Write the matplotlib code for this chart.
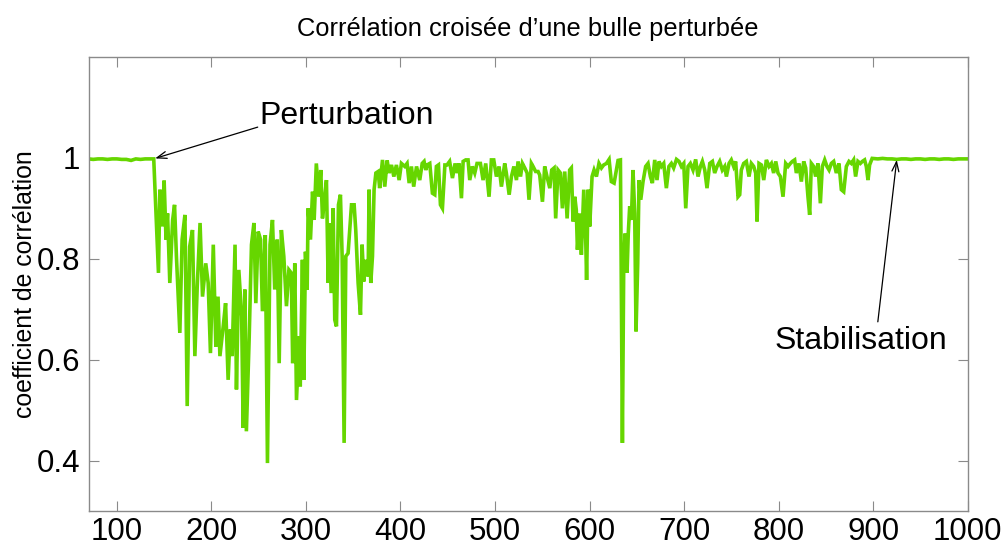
import matplotlib
matplotlib.use("Agg")
import matplotlib.pyplot as plt

# ---- data ----
frame_x = [70, 75, 80, 85, 90, 95, 100, 105, 110, 115, 120, 125, 130, 135, 139,
           144, 145.5, 148, 150, 152, 153.6, 156, 159, 161, 163, 166.6, 169, 172, 174.4,
           177, 180, 182.5, 185, 188, 190.6, 194, 196.6, 199, 202, 204.7, 207, 209,
           212.5, 215, 217.7, 220, 222, 225, 226.5, 229, 232, 233.6, 235.4, 237, 240,
           242.4, 245, 247, 249.5, 252, 254, 257, 259.3, 262, 264.6, 267, 269.6, 271.7,
           274, 276.6, 279.4, 282,
           284.5, 286, 288.2, 290, 293, 294, 296.3, 297.8, 299.5, 301.3, 302.3, 304.8,
           307, 308.7, 311, 313.6, 315.7, 317.5, 320, 321.7, 323.5, 324.5, 326.7, 328.8,
           330.5, 332.3, 334.4, 336.5, 338.3, 340.4, 342.2, 344.6, 346.4, 348.2, 351,
           352.7, 355.2, 357.7, 359.4, 361.2, 363.3, 365.8, 366.8, 368.6, 370.4, 372.1,
           374, 376.4, 378, 381, 383.4, 385.9, 388, 390.5, 393, 395.7, 398.6, 401, 404.6,
           407, 409.2, 411.6, 414, 417, 420.4, 423, 425, 426.8, 428.2, 431, 433.8, 436.3,
           438, 440.2, 442.3, 444.4, 447, 449.3, 452, 455, 457.8, 460, 462, 464.5, 466.3,
           469, 471.5, 473.3, 476, 478.6, 481, 484.6, 487.4, 490.2, 493.7, 496.2, 498.7,
           501.5, 504.3, 506.8, 510.3, 512, 515, 517.4, 520, 522.7, 524.4, 527, 529,
           531.5, 534, 536, 538.5, 540.3, 543, 545.6, 547.3, 550.2, 552.6, 555, 558, 560,
           562.5, 564.2, 566.7, 569.2, 571.3, 573.8, 576.3, 579, 580.8, 582.6, 584.4, 586,
           587.2, 589.6, 591.4, 593.9, 596, 596.9, 598.5, 600.2, 602.7, 604.8, 607.3, 610,
           612.6, 615, 617.9, 620.7, 623.1, 626, 628.4, 630.2, 632.7, 634.8, 636.2, 637.6,
           639.7, 641, 642.5, 644.3, 646, 647.8, 649.2, 651, 652.4, 654.2, 656.6, 659.4,
           661.9, 664.4, 666.5, 669, 671.4, 673.5, 676, 678.5, 681.3, 684, 686.6, 689, 692,
           694.7, 697.2, 699.7, 701.8, 704.2, 706.7, 709.5, 712.3, 714.8, 717.3, 719.4,
           721.9, 724.3, 727.2, 730, 732.4, 734.9, 737.7, 740.5, 743, 744.8, 747.6, 750,
           752.5, 754.6, 757.1, 758.9, 760.6, 763.1, 765.9, 768.7, 771.2, 773.7, 775.8,
           777.2, 779.3, 781.8, 784.3, 787.1, 789.9, 792.4, 794.8, 797, 799.4, 801.9,
           804.7, 807.5, 810, 812.5, 814.6, 817, 818.8, 821.6, 824.1, 826.6, 828.7, 831.1,
           832.9, 834.7, 837.1, 839.2, 841.7, 844.2, 846.3, 848.8, 851.2, 853.4, 855.8,
           858.3, 861.1, 863.9, 866.4, 868.9, 871.7, 874.5, 877, 879.4, 881.5, 884, 886.5,
           888.6, 891, 892.8, 894.6, 896.3, 899,
           905, 910, 915, 920, 925, 930, 935, 940, 945, 950, 955, 960, 965, 970, 975, 980,
           985, 990, 995, 1000]

correlation = [0.998, 0.997, 0.998, 0.998, 0.997, 0.998, 0.998, 0.997, 0.997, 0.995, 0.998, 0.997, 0.998, 0.998, 0.998,
               0.772, 0.937, 0.864, 0.955, 0.838, 0.89, 0.752, 0.877, 0.907, 0.805, 0.653, 0.838, 0.887, 0.508,
               0.824, 0.857, 0.607, 0.745, 0.871, 0.725, 0.791, 0.752, 0.613, 0.828, 0.626, 0.725, 0.607,
               0.666, 0.712, 0.56, 0.66, 0.607, 0.828, 0.541, 0.778, 0.686, 0.465, 0.739, 0.458, 0.646,
               0.828, 0.871, 0.712, 0.854, 0.838, 0.696, 0.847, 0.395, 0.828, 0.877, 0.739, 0.838, 0.593,
               0.857, 0.805, 0.706, 0.778,
               0.772, 0.593, 0.791, 0.52, 0.646, 0.547, 0.798, 0.56, 0.814, 0.739, 0.9, 0.838,
               0.933, 0.877, 0.989, 0.923, 0.976, 0.88, 0.923, 0.956, 0.752, 0.87, 0.732, 0.9,
               0.679, 0.666, 0.907, 0.927, 0.805, 0.435, 0.805, 0.811, 0.86, 0.907, 0.907,
               0.857, 0.752, 0.689, 0.828, 0.755, 0.798, 0.765, 0.937, 0.752, 0.805, 0.937,
               0.97, 0.973, 0.94, 0.996, 0.943, 0.995, 0.97, 0.986, 0.963, 0.986, 0.956, 0.989, 0.983,
               0.989, 0.95, 0.983, 0.943, 0.983, 0.956, 0.989, 0.993, 0.976, 0.986, 0.989, 0.93, 0.927,
               0.983, 0.986, 0.907, 0.9, 0.986, 0.986, 0.993, 0.96, 0.989, 0.97, 0.989, 0.92, 0.993,
               0.996, 0.996, 0.956, 0.983, 0.97, 0.989, 0.989, 0.956, 0.989, 0.923, 0.996, 0.996,
               0.963, 0.983, 0.943, 0.989, 0.97, 0.927, 0.963, 0.983, 0.956, 0.993, 0.963, 0.989,
               0.98, 0.97, 0.917, 0.989, 0.983, 0.973, 0.973, 0.966, 0.913, 0.983, 0.963, 0.94, 0.976,
               0.98, 0.88, 0.976, 0.97, 0.9, 0.973, 0.88, 0.976, 0.98, 0.874, 0.923, 0.897,
               0.818, 0.89, 0.808, 0.937, 0.838, 0.758, 0.937, 0.864, 0.963, 0.976, 0.963, 0.989,
               0.98, 0.986, 0.989, 0.997, 0.953, 0.95, 0.976, 0.995, 0.996, 0.435, 0.791, 0.85,
               0.772, 0.85, 0.904, 0.877, 0.976, 0.89, 0.656, 0.791, 0.956, 0.917, 0.953, 0.983,
               0.989, 0.963, 0.95, 0.996, 0.956, 0.993, 0.983, 0.989, 0.94, 0.983, 0.989, 0.98, 0.997,
               0.993, 0.983, 0.989, 0.9, 0.983, 0.989, 0.976, 0.997, 0.963, 0.983, 0.993,
               0.976, 0.94, 0.989, 0.993, 0.97, 0.983, 0.993, 0.976, 0.983, 0.963, 0.989, 0.996,
               0.983, 0.993, 0.923, 0.927, 0.976, 0.989, 0.993, 0.963, 0.989, 0.983, 0.97,
               0.874, 0.989, 0.986, 0.956, 0.996, 0.983, 0.989, 0.97, 0.993, 0.97, 0.963,
               0.923, 0.989, 0.983, 0.989, 0.993, 0.996, 0.97, 0.989, 0.953, 0.993, 0.98, 0.923,
               0.887, 0.989, 0.983, 0.963, 0.989, 0.91, 0.983, 0.996, 0.983, 0.976, 0.989,
               0.993, 0.97, 0.989, 0.937, 0.933, 0.983, 0.993, 0.989, 0.996, 0.963, 0.993, 0.989,
               0.993, 0.996, 0.983, 0.956, 0.986, 0.999,
               0.998, 0.999, 0.998, 0.998, 0.997, 0.998, 0.998, 0.997, 0.998, 0.998, 0.997, 0.998, 0.998, 0.997, 0.998, 0.998,
               0.997, 0.998, 0.998, 0.998]

x_ticks = [100, 200, 300, 400, 500, 600, 700, 800, 900, 1000]
y_ticks = [0.4, 0.6, 0.8, 1.0]
y_tick_labels = ["0.4", "0.6", "0.8", "1"]

title = "Corrélation croisée d\u2019une bulle perturbée"
ylabel = "coefficient de corrélation"

# ---- figure ----
plt.rcParams['font.family'] = ['Liberation Sans', 'DejaVu Sans']
fig = plt.figure(figsize=(10.07, 5.47), dpi=100)
ax = fig.add_axes([0.0879, 0.0658, 0.873, 0.830])

ax.plot(frame_x, correlation, color='#66d600', linewidth=2.6, solid_joinstyle='miter')

ax.set_xlim(70, 1000)
ax.set_ylim(0.3, 1.2)
ax.set_xticks(x_ticks)
ax.set_yticks(y_ticks)
ax.set_yticklabels(y_tick_labels)

spine_col = '#8a8a8a'
for s in ax.spines.values():
    s.set_color(spine_col)
    s.set_linewidth(1.0)
ax.tick_params(direction='in', length=7, width=0.8, color=spine_col,
               top=True, right=True, labelsize=22.5, labelcolor='black')
ax.tick_params(axis='x', pad=4)
ax.tick_params(axis='y', pad=6)

ax.set_title(title, fontsize=18.4, pad=15)
ax.set_ylabel(ylabel, fontsize=17.9, labelpad=0)

arrow_kw = dict(arrowstyle='->,head_length=0.7,head_width=0.25', color='black', lw=0.9,
                shrinkA=0, shrinkB=0)
ax.text(251, 1.083, "Perturbation", fontsize=23, ha='left', va='center')
ax.annotate('', xy=(140.5, 0.999), xytext=(249, 1.061), arrowprops=arrow_kw)

ax.text(796, 0.638, "Stabilisation", fontsize=23, ha='left', va='center')
ax.annotate('', xy=(925, 0.996), xytext=(905, 0.675), arrowprops=arrow_kw)

fig.savefig('out.png', dpi=100)
